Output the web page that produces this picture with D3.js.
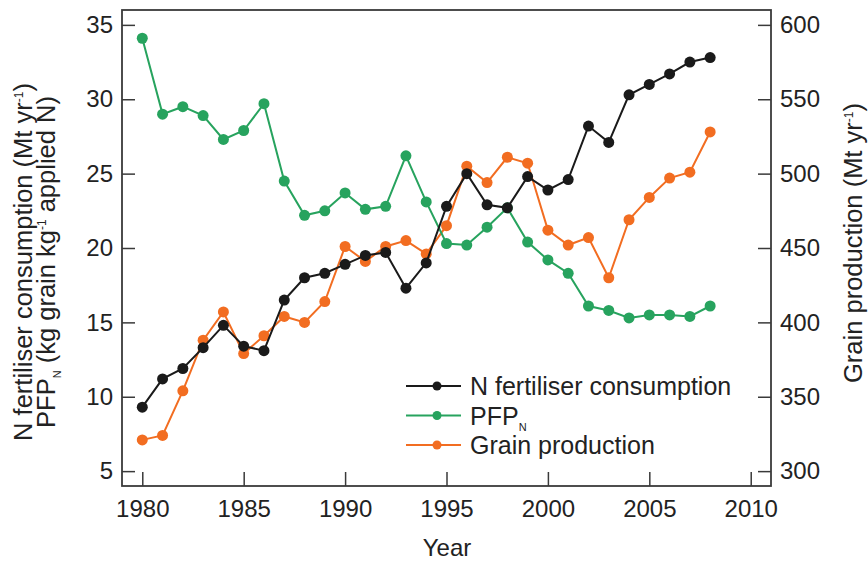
<!DOCTYPE html>
<html>
<head>
<meta charset="utf-8">
<script src="https://cdn.jsdelivr.net/npm/d3@7"></script>
<style>
  body { margin: 0; background: #fff; }
  svg { display: block; font-family: "Liberation Sans", Arial, sans-serif; }
</style>
</head>
<body>
<svg id="chart" width="868" height="562"></svg>
<script>
const years = d3.range(1980, 2009);

// N fertiliser consumption (Mt yr-1), left axis
const nFert = [9.3, 11.2, 11.9, 13.3, 14.8, 13.4, 13.1, 16.5, 18.0, 18.3, 18.9, 19.5, 19.7, 17.3,
  19.0, 22.8, 25.0, 22.9, 22.7, 24.8, 23.9, 24.6, 28.2, 27.1, 30.3, 31.0, 31.7, 32.5, 32.8];

// PFP_N (kg grain kg-1 applied N), left axis
const pfp = [34.1, 29.0, 29.5, 28.9, 27.3, 27.9, 29.7, 24.5, 22.2, 22.5, 23.7, 22.6, 22.8, 26.2,
  23.1, 20.3, 20.2, 21.4, 22.7, 20.4, 19.2, 18.3, 16.1, 15.8, 15.3, 15.5, 15.5, 15.4, 16.1];

// Grain production (Mt yr-1), right axis
const grain = [321, 324, 354, 388, 407, 379, 391, 404, 400, 414, 451, 441, 451, 455,
  446, 465, 505, 494, 511, 507, 462, 452, 457, 430, 469, 484, 497, 501, 528];

const xTicks = [1980, 1985, 1990, 1995, 2000, 2005, 2010];
const leftTicks = [5, 10, 15, 20, 25, 30, 35];
const rightTicks = [300, 350, 400, 450, 500, 550, 600];

const colors = { n: "#1a1a1a", pfp: "#27a35e", grain: "#f26d21" };

const svg = d3.select("#chart");
const frame = { left: 122, right: 771, top: 10, bottom: 486 };
const fontSize = 24;
const titleSize = 25.5;

const x = d3.scaleLinear().domain([1979, 2011]).range([frame.left, frame.right]);
const yLeft = d3.scaleLinear().domain([4, 36]).range([frame.bottom, frame.top]);
const yRight = d3.scaleLinear().domain([290, 610]).range([frame.bottom, frame.top]);

// axes, ticks pointing into the plot
const styleAxis = function (g) {
  g.select(".domain").remove();
  g.selectAll(".tick line").attr("stroke", "#3a3a3a").attr("stroke-width", 1.5);
  g.selectAll(".tick text")
    .attr("fill", "#222")
    .style("font-size", fontSize + "px")
    .style("font-family", "Liberation Sans, Arial, sans-serif");
};

svg.append("g")
  .attr("transform", `translate(0, ${frame.bottom})`)
  .call(d3.axisBottom(x).tickValues(xTicks).tickFormat(d3.format("d")).tickSizeInner(-14).tickPadding(14))
  .call(styleAxis);

svg.append("g")
  .attr("transform", `translate(${frame.left}, 0)`)
  .call(d3.axisLeft(yLeft).tickValues(leftTicks).tickSizeInner(-13).tickPadding(9))
  .call(styleAxis);

svg.append("g")
  .attr("transform", `translate(${frame.right}, 0)`)
  .call(d3.axisRight(yRight).tickValues(rightTicks).tickSizeInner(-13).tickPadding(9))
  .call(styleAxis);

svg.append("rect")
  .attr("x", frame.left)
  .attr("y", frame.top)
  .attr("width", frame.right - frame.left)
  .attr("height", frame.bottom - frame.top)
  .attr("fill", "none")
  .attr("stroke", "#3a3a3a")
  .attr("stroke-width", 1.8);

// series
const series = [
  { key: "grain", values: grain, y: yRight, color: colors.grain },
  { key: "pfp", values: pfp, y: yLeft, color: colors.pfp },
  { key: "n", values: nFert, y: yLeft, color: colors.n }
];

series.forEach(function (s) {
  const pts = years.map((yr, i) => [yr, s.values[i]]);
  const line = d3.line().x(d => x(d[0])).y(d => s.y(d[1]));

  svg.append("path")
    .datum(pts)
    .attr("d", line)
    .attr("fill", "none")
    .attr("stroke", s.color)
    .attr("stroke-width", 2);

  svg.append("g")
    .selectAll("circle")
    .data(pts)
    .join("circle")
    .attr("cx", d => x(d[0]))
    .attr("cy", d => s.y(d[1]))
    .attr("r", 5.5)
    .attr("fill", s.color);
});

// legend
const legend = svg.append("g").attr("transform", "translate(406, 386)");
const legendRows = [
  { label: "N fertiliser consumption", color: colors.n },
  { label: "PFP", sub: "N", color: colors.pfp },
  { label: "Grain production", color: colors.grain }
];

legendRows.forEach(function (r, i) {
  const row = legend.append("g").attr("transform", `translate(0, ${i * 29.5})`);
  row.append("line")
    .attr("x1", 0).attr("x2", 55)
    .attr("stroke", r.color).attr("stroke-width", 1.8);
  row.append("circle")
    .attr("cx", 31).attr("r", 4.5)
    .attr("fill", r.color);
  const t = row.append("text")
    .attr("x", 64).attr("y", 9)
    .attr("fill", "#222")
    .style("font-size", "25px")
    .text(r.label);
  if (r.sub) {
    t.append("tspan").attr("dy", 6).style("font-size", "11px").text(r.sub);
  }
});

// axis titles
svg.append("text")
  .attr("x", 447).attr("y", 556)
  .attr("text-anchor", "middle")
  .attr("fill", "#222")
  .style("font-size", fontSize + "px")
  .text("Year");

const leftTitle = svg.append("g").attr("transform", "translate(0, 262) rotate(-90)");

const t1 = leftTitle.append("text")
  .attr("x", 0).attr("y", 32)
  .attr("text-anchor", "middle")
  .attr("fill", "#222")
  .style("font-size", titleSize + "px");
t1.append("tspan").text("N fertiliser consumption (Mt yr");
t1.append("tspan").attr("dy", -9).style("font-size", "12px").text("-1");
t1.append("tspan").attr("dy", 9).text(")");

const t2 = leftTitle.append("text")
  .attr("x", 0).attr("y", 55)
  .attr("text-anchor", "middle")
  .attr("fill", "#222")
  .style("font-size", titleSize + "px");
t2.append("tspan").text("PFP");
t2.append("tspan").attr("dy", 6).style("font-size", "11px").text("N");
t2.append("tspan").attr("dy", -6).text(" (kg grain kg");
t2.append("tspan").attr("dy", -9).style("font-size", "12px").text("-1");
t2.append("tspan").attr("dy", 9).text(" applied N)");

const t3 = svg.append("text")
  .attr("transform", "translate(862, 243) rotate(-90)")
  .attr("text-anchor", "middle")
  .attr("fill", "#222")
  .style("font-size", titleSize + "px");
t3.append("tspan").text("Grain production (Mt yr");
t3.append("tspan").attr("dy", -9).style("font-size", "12px").text("-1");
t3.append("tspan").attr("dy", 9).text(")");
</script>
</body>
</html>
